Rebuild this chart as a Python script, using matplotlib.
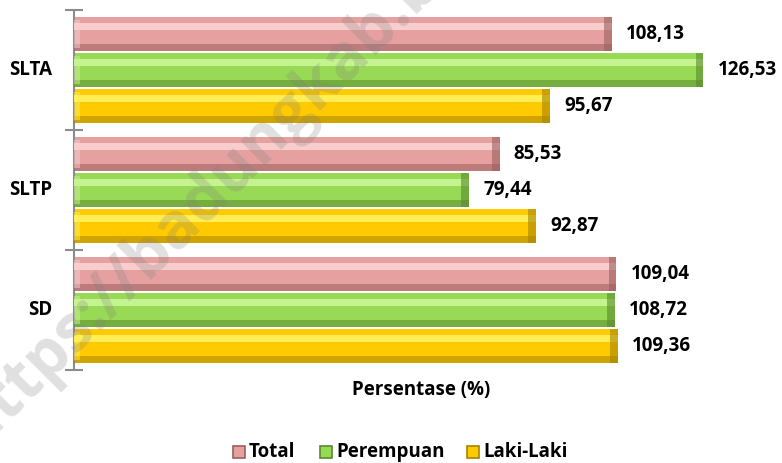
import matplotlib
matplotlib.use("Agg")
import matplotlib.pyplot as plt
import numpy as np
from matplotlib.patches import Rectangle

categories = ["SD", "SLTP", "SLTA"]
series_names = ["Total", "Perempuan", "Laki-Laki"]
total = [109.04, 85.53, 108.13]
perempuan = [108.72, 79.44, 126.53]
laki = [109.36, 92.87, 95.67]
xlabel = "Persentase (%)"
watermark = "https://badungkab.bps.go.id"

FONT = "Open Sans"
plt.rcParams["font.family"] = [FONT, "DejaVu Sans"]

fig = plt.figure(figsize=(7.82, 4.63), dpi=100)
ax = fig.add_axes([74 / 782, 1 - 370 / 463, 708 / 782, 360 / 463])

styles = [
    # base, highlight, dark
    ("#E6A0A0", "#F8CDCD", "#9A6060"),
    ("#98D955", "#C6F392", "#5A8A2D"),
    ("#FFCA00", "#FFEE55", "#A88400"),
]
offsets = [0.3, 0.0, -0.3]
h = 0.29
y = np.arange(len(categories))
data = [total, perempuan, laki]

for vals, (base, hi, dark), off in zip(data, styles, offsets):
    yy = y + off
    vals = np.array(vals)
    ax.barh(yy, vals, height=h, color=base, edgecolor="none", zorder=2)
    # bottom dark band
    ax.barh(yy - h * 0.40, vals, height=h * 0.20, color=dark, alpha=0.55,
            edgecolor="none", zorder=3)
    # top highlight band
    ax.barh(yy + h * 0.22, vals, height=h * 0.22, color=hi, edgecolor="none",
            zorder=3)
    # right end bevel
    ax.barh(yy, np.full_like(vals, 1.6), left=vals - 1.6, height=h,
            color=dark, alpha=0.6, edgecolor="none", zorder=4)
    # left bevel
    ax.barh(yy, np.full_like(vals, 1.2), left=0, height=h * 0.8,
            color=hi, alpha=0.5, edgecolor="none", zorder=4)
    for v, yv in zip(vals, yy):
        ax.text(v + 2.8, yv, f"{v:.2f}".replace(".", ","), ha="left",
                va="center", fontsize=13.5, fontweight="bold", color="black",
                zorder=5)

ax.set_xlim(0, 708 / 4.975)
ax.set_ylim(-0.5, 2.5)
ax.set_xticks([])
ax.set_yticks([-0.5, 0.5, 1.5, 2.5])
ax.set_yticklabels([])
ax.tick_params(axis="y", direction="inout", length=13, width=1.5,
               color="#8C8C8C")
for s in ["top", "right", "bottom"]:
    ax.spines[s].set_visible(False)
ax.spines["left"].set_color("#8C8C8C")
ax.spines["left"].set_linewidth(1.5)

for yv, c in zip(y, categories):
    ax.text(-22 / 4.975, yv, c, ha="right", va="center", fontsize=13.5,
            fontweight="bold", color="black")

fig.text(421 / 782, 1 - 390 / 463, xlabel, ha="center", va="center",
         fontsize=13.5, fontweight="bold")

# legend
leg_items = [(233, "Total", styles[0]), (320, "Perempuan", styles[1]),
             (467, "Laki-Laki", styles[2])]
ly = 452
for x0, name, (base, hi, dark) in leg_items:
    fig.patches.append(Rectangle((x0 / 782, 1 - (ly + 6) / 463), 12 / 782,
                                 12 / 463, transform=fig.transFigure,
                                 facecolor=base, edgecolor=dark, lw=1.2))
    fig.text((x0 + 16) / 782, 1 - ly / 463, name, ha="left", va="center",
             fontsize=13.5, fontweight="bold")

fig.text(-58 / 782, 1 - 445 / 463, watermark, rotation=45, ha="left",
         va="baseline", fontsize=46, fontweight="bold", color="#7F7F7F",
         alpha=0.24, zorder=10)

fig.savefig("out.png", dpi=100)
